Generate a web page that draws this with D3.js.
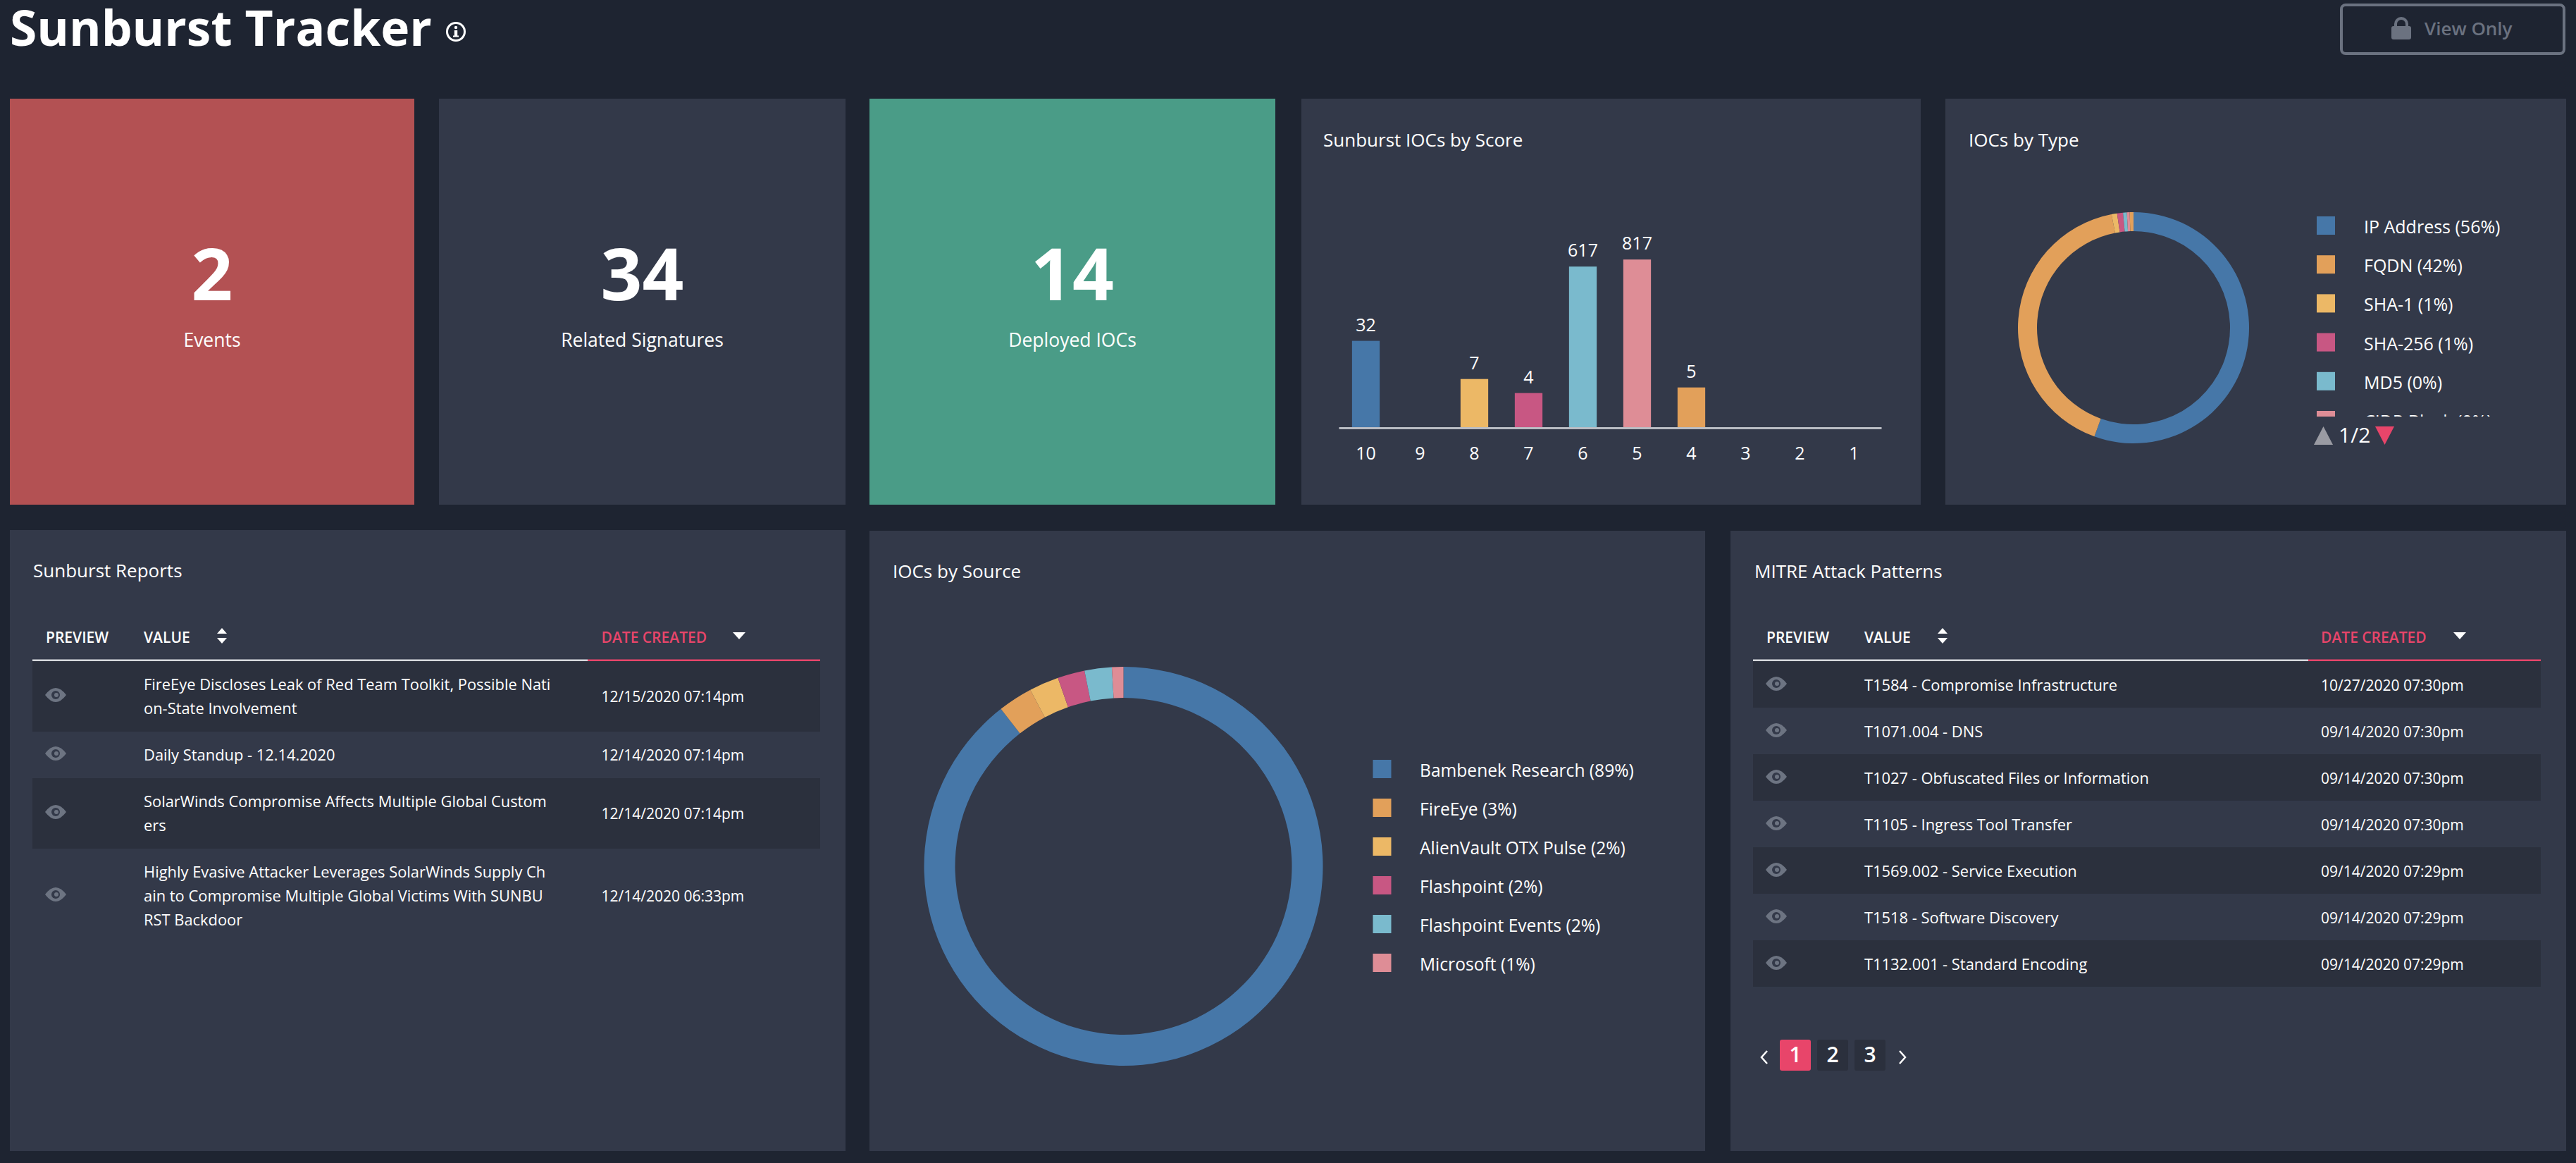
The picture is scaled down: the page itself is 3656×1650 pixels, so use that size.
<!DOCTYPE html>
<html>
<head>
<meta charset="utf-8">
<script src="https://cdnjs.cloudflare.com/ajax/libs/d3/7.8.5/d3.min.js"></script>
<style>
  html, body { margin: 0; padding: 0; background: #1e2431; }
  svg { display: block; }
  text { font-family: "Open Sans", sans-serif; fill: #fff; }
</style>
</head>
<body>
<svg id="board" width="3656" height="1650"></svg>
<script>
const palette = ["#4677a8", "#e2a05a", "#ecb866", "#c85783", "#7abacd", "#de8d96"];

const scoreLabels = [10, 9, 8, 7, 6, 5, 4, 3, 2, 1];
const scoreCounts = [32, 0, 7, 4, 617, 817, 5, 0, 0, 0];

// legend is paged: the seventh slice has its entry on page 2
const typeLabels = ["IP Address (56%)", "FQDN (42%)", "SHA-1 (1%)", "SHA-256 (1%)", "MD5 (0%)", "CIDR Block (0%)"];
const typeValues = [55.5, 41.45, 0.78, 0.82, 0.53, 0.39, 0.53];

const sourceLabels = ["Bambenek Research (89%)", "FireEye (3%)", "AlienVault OTX Pulse (2%)", "Flashpoint (2%)", "Flashpoint Events (2%)", "Microsoft (1%)"];
const sourceValues = [89.4, 2.8, 2.4, 2.2, 2.2, 0.93];

const statValues = ["2", "34", "14"];
const statNames = ["Events", "Related Signatures", "Deployed IOCs"];

const reportLines = [
  ["FireEye Discloses Leak of Red Team Toolkit, Possible Nati", "on-State Involvement"],
  ["Daily Standup - 12.14.2020"],
  ["SolarWinds Compromise Affects Multiple Global Custom", "ers"],
  ["Highly Evasive Attacker Leverages SolarWinds Supply Ch", "ain to Compromise Multiple Global Victims With SUNBU", "RST Backdoor"]
];
const reportDates = ["12/15/2020 07:14pm", "12/14/2020 07:14pm", "12/14/2020 07:14pm", "12/14/2020 06:33pm"];

const patternNames = [
  "T1584 - Compromise Infrastructure", "T1071.004 - DNS", "T1027 - Obfuscated Files or Information",
  "T1105 - Ingress Tool Transfer", "T1569.002 - Service Execution", "T1518 - Software Discovery", "T1132.001 - Standard Encoding"
];
const patternDates = [
  "10/27/2020 07:30pm", "09/14/2020 07:30pm", "09/14/2020 07:30pm", "09/14/2020 07:30pm",
  "09/14/2020 07:29pm", "09/14/2020 07:29pm", "09/14/2020 07:29pm"
];

const pageNumbers = [1, 2, 3];

const svg = d3.select("#board");
const cardColor = "#333949";
const rowColor = "#2b303d";
const red = "#e8456a";

function card(x0, y0, x1, y1, color) {
  svg.append("rect").attr("x", x0).attr("y", y0).attr("width", x1 - x0).attr("height", y1 - y0).attr("fill", color || cardColor);
}

function title(txt, x, y) {
  svg.append("text").attr("x", x).attr("y", y).attr("font-size", 26).attr("font-weight", 500).text(txt);
}

// header
svg.append("text").attr("x", 14).attr("y", 65).attr("font-size", 69.5).attr("font-weight", 700).text("Sunburst Tracker");
const info = svg.append("g").attr("transform", "translate(647,45)");
info.append("circle").attr("r", 12.5).attr("fill", "none").attr("stroke", "#fff").attr("stroke-width", 3);
info.append("circle").attr("cy", -6).attr("r", 2.2).attr("fill", "#fff");
info.append("rect").attr("x", -2.2).attr("y", -2).attr("width", 4.4).attr("height", 9).attr("fill", "#fff");
info.append("rect").attr("x", -4).attr("y", 5.5).attr("width", 8).attr("height", 2).attr("fill", "#fff");

svg.append("rect").attr("x", 3323).attr("y", 7).attr("width", 316).attr("height", 69).attr("rx", 6)
  .attr("fill", "none").attr("stroke", "#6b7280").attr("stroke-width", 4);
const lock = svg.append("g").attr("transform", "translate(3408,41)").attr("fill", "#6b7280");
lock.append("path").attr("d", "M-8,-3 V-7 A8,8 0 0 1 8,-7 V-3").attr("fill", "none").attr("stroke", "#6b7280").attr("stroke-width", 4);
lock.append("rect").attr("x", -14).attr("y", -4).attr("width", 28).attr("height", 19).attr("rx", 3);
svg.append("text").attr("x", 3441).attr("y", 50).attr("font-size", 26).attr("font-weight", 600).style("fill", "#6b7280").text("View Only");

// stat cards
const statX = [[14, 588, "#b35153"], [623, 1200, cardColor], [1234, 1810, "#4a9c87"]];
statValues.forEach((v, i) => {
  const [x0, x1, color] = statX[i];
  card(x0, 140, x1, 716, color);
  const cx = (x0 + x1) / 2;
  svg.append("text").attr("x", cx).attr("y", 426).attr("text-anchor", "middle").attr("font-size", 103).attr("font-weight", 700).text(v);
  svg.append("text").attr("x", cx).attr("y", 492).attr("text-anchor", "middle").attr("font-size", 26.5).text(statNames[i]);
});

// bar chart, counts on a log scale
card(1847, 140, 2726, 716);
title("Sunburst IOCs by Score", 1878, 208);
const x = d3.scaleBand().domain(scoreLabels).range([1900, 2670]).paddingInner(0.49).paddingOuter(0.245);
const y = d3.scaleLog().domain([1, 1000]).range([607, 361]);
const shown = scoreLabels.map((s, i) => ({ s, v: scoreCounts[i] })).filter(d => d.v > 0);
const barFill = { 10: palette[0], 8: palette[2], 7: palette[3], 6: palette[4], 5: palette[5], 4: palette[1] };
svg.append("g").selectAll("rect").data(shown).enter().append("rect")
  .attr("x", d => x(d.s)).attr("y", d => y(d.v))
  .attr("width", x.bandwidth()).attr("height", d => y(1) - y(d.v))
  .attr("fill", d => barFill[d.s]);
svg.append("g").selectAll("text").data(shown).enter().append("text")
  .attr("x", d => x(d.s) + x.bandwidth() / 2).attr("y", d => y(d.v) - 14)
  .attr("text-anchor", "middle").attr("font-size", 25).text(d => d.v);
const axis = svg.append("g").attr("transform", "translate(0,607)").call(d3.axisBottom(x).tickSize(0).tickPadding(27));
axis.select(".domain").attr("stroke", "#b9bcc3").attr("stroke-width", 3);
axis.selectAll("text").attr("font-size", 25).attr("font-family", "Open Sans").attr("fill", "#fff");

// donuts
function donut(cx, cy, inner, outer, values, colors) {
  const pie = d3.pie().sort(null);
  const arc = d3.arc().innerRadius(inner).outerRadius(outer);
  svg.append("g").attr("transform", `translate(${cx},${cy})`)
    .selectAll("path").data(pie(values)).enter().append("path")
    .attr("d", arc).attr("fill", (d, i) => colors[i]);
}

function legend(labels, x0, y0, textX, step, size, group) {
  const g = group || svg;
  labels.forEach((l, i) => {
    g.append("rect").attr("x", x0).attr("y", y0 + i * step).attr("width", 26).attr("height", 26).attr("fill", palette[i % palette.length]);
    g.append("text").attr("x", textX).attr("y", y0 + i * step + 24).attr("font-size", size).text(l);
  });
}

card(2761, 140, 3642, 716);
title("IOCs by Type", 2794, 208);
donut(3028, 465, 137, 164, typeValues, palette.concat(palette[1]));
svg.append("clipPath").attr("id", "type-clip").append("rect").attr("x", 3270).attr("y", 290).attr("width", 360).attr("height", 301);
legend(typeLabels, 3288, 307, 3355, 55.2, 25, svg.append("g").attr("clip-path", "url(#type-clip)"));
svg.append("path").attr("d", d3.line()([[3284, 631], [3311, 631], [3297.5, 605]])).attr("fill", "#9a9ba3");
svg.append("text").attr("x", 3319).attr("y", 628).attr("font-size", 30).text("1/2");
svg.append("path").attr("d", d3.line()([[3371, 605], [3398, 605], [3384.5, 631]])).attr("fill", red);

card(1234, 753, 2420, 1633);
title("IOCs by Source", 1267, 820);
donut(1594.5, 1229, 239, 283, sourceValues, palette);
legend(sourceLabels, 1948.5, 1078, 2015, 55, 24.6);

// tables
function eye(cx, cy) {
  const g = svg.append("g").attr("transform", `translate(${cx},${cy})`);
  g.append("path").attr("d", "M-15,0 Q0,-20 15,0 Q0,20 -15,0 Z").attr("fill", "#6d7482");
  g.append("circle").attr("r", 6).attr("fill", cardColor);
  g.append("circle").attr("r", 3).attr("cx", 1).attr("fill", "#6d7482");
}

function tableHead(x0, xSplit, x1, previewX, valueX, sortX, dateX, arrowX) {
  const t = (txt, tx, color) => svg.append("text").attr("x", tx).attr("y", 912).attr("font-size", 21).attr("font-weight", 600).style("fill", color || "#fff").text(txt);
  t("PREVIEW", previewX); t("VALUE", valueX); t("DATE CREATED", dateX, red);
  svg.append("path").attr("d", d3.line()([[sortX - 7, 899], [sortX + 7, 899], [sortX, 891]])).attr("fill", "#fff");
  svg.append("path").attr("d", d3.line()([[sortX - 7, 905], [sortX + 7, 905], [sortX, 913]])).attr("fill", "#fff");
  svg.append("path").attr("d", d3.line()([[arrowX - 9, 897], [arrowX + 9, 897], [arrowX, 907]])).attr("fill", "#fff");
  svg.append("rect").attr("x", x0).attr("y", 935.5).attr("width", xSplit - x0).attr("height", 3).attr("fill", "#d7d9dd");
  svg.append("rect").attr("x", xSplit).attr("y", 935.5).attr("width", x1 - xSplit).attr("height", 3).attr("fill", red);
}

card(14, 752, 1200, 1633);
title("Sunburst Reports", 47, 819);
tableHead(46, 834, 1164, 65, 204, 315, 853.5, 1049);
let rowY = 938;
const lineStep = 34;
reportLines.forEach((lines, i) => {
  const h = lines.length * lineStep + 32;
  if (i % 2 === 0) svg.append("rect").attr("x", 46).attr("y", rowY).attr("width", 1118).attr("height", h).attr("fill", rowColor);
  const mid = rowY + h / 2;
  const base = mid + 8 - (lines.length - 1) * lineStep / 2;
  lines.forEach((l, j) => svg.append("text").attr("x", 204).attr("y", base + j * lineStep).attr("font-size", 21.9).text(l));
  svg.append("text").attr("x", 853.5).attr("y", mid + 8).attr("font-size", 21).text(reportDates[i]);
  eye(79, mid - 2);
  rowY += h;
});

card(2456, 753, 3642, 1633);
title("MITRE Attack Patterns", 2490, 820);
tableHead(2488, 3276, 3606, 2507, 2646, 2757, 3294, 3491);
patternNames.forEach((name, i) => {
  const top = 938 + i * 66;
  if (i % 2 === 0) svg.append("rect").attr("x", 2488).attr("y", top).attr("width", 1118).attr("height", 66).attr("fill", rowColor);
  svg.append("text").attr("x", 2646).attr("y", top + 42).attr("font-size", 21.9).text(name);
  svg.append("text").attr("x", 3294).attr("y", top + 42).attr("font-size", 21).text(patternDates[i]);
  eye(2521, top + 32);
});

// pager
const pageX = d3.scalePoint().domain(pageNumbers).range([2548, 2654]);
svg.append("g").selectAll("rect").data(pageNumbers).enter().append("rect")
  .attr("x", d => pageX(d) - 22).attr("y", 1475).attr("width", 44).attr("height", 44).attr("rx", 3)
  .attr("fill", d => d === 1 ? red : rowColor);
svg.append("g").selectAll("text").data(pageNumbers).enter().append("text")
  .attr("x", d => pageX(d)).attr("y", 1507).attr("text-anchor", "middle").attr("font-size", 30).attr("font-weight", 600).text(d => d);
const chevron = (pts) => svg.append("path").attr("d", d3.line()(pts)).attr("fill", "none").attr("stroke", "#fff").attr("stroke-width", 2.5);
chevron([[2508, 1491], [2500, 1500], [2508, 1509]]);
chevron([[2696, 1491], [2704, 1500], [2696, 1509]]);
</script>
</body>
</html>
